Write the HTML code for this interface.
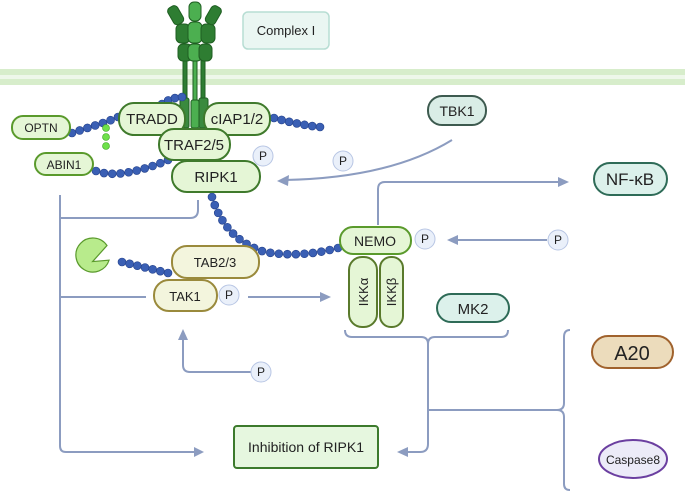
<!DOCTYPE html>
<html><head><meta charset="utf-8"><style>
html,body{margin:0;padding:0;background:#fff;}
svg{display:block;font-family:"Liberation Sans",sans-serif;}
</style></head><body>
<svg id="s" width="685" height="494" viewBox="0 0 685 494" xmlns="http://www.w3.org/2000/svg">
<rect width="685" height="494" fill="#fff"/>
<!-- membrane -->
<rect x="0" y="69" width="685" height="16" fill="#d7edcb"/>
<rect x="0" y="75" width="685" height="4" fill="#eef7ea"/>
<!-- complex I -->
<rect x="243" y="12" width="86" height="37" rx="5" fill="#eaf6f2" stroke="#b7ddd3" stroke-width="1.5"/>
<text x="286" y="35" font-size="13" text-anchor="middle" fill="#222">Complex I</text>
<!-- receptor -->
<g stroke="#1f5e22" stroke-width="1">
<rect x="183" y="50" width="4" height="80" fill="#2e7d32"/>
<rect x="193" y="50" width="4" height="80" fill="#4caf50"/>
<rect x="201" y="50" width="4" height="80" fill="#2e7d32"/>
<rect x="180" y="98" width="9" height="30" rx="2" fill="#3a8a3e"/>
<rect x="191" y="100" width="8" height="28" rx="2" fill="#4caf50"/>
<rect x="199" y="98" width="9" height="30" rx="2" fill="#3a8a3e"/>
<rect x="178" y="44" width="14" height="17" rx="5" fill="#2e7d32"/>
<rect x="188" y="44" width="14" height="17" rx="5" fill="#4caf50"/>
<rect x="199" y="44" width="13" height="17" rx="5" fill="#2e7d32"/>
<rect x="176" y="24" width="14" height="19" rx="5" fill="#2e7d32"/>
<rect x="188" y="22" width="14" height="21" rx="5" fill="#4caf50"/>
<rect x="201" y="24" width="14" height="19" rx="5" fill="#2e7d32"/>
<rect x="189" y="2" width="12" height="19" rx="5" fill="#4caf50"/>
<rect x="170" y="6" width="11" height="19" rx="4" fill="#2e7d32" transform="rotate(-30 175 15)"/>
<rect x="208" y="6" width="11" height="19" rx="4" fill="#2e7d32" transform="rotate(30 214 15)"/>
</g>
<!-- connectors -->
<g fill="none" stroke="#8c9cc0" stroke-width="2">
<path d="M60 195 V446 Q60 452 66 452 H196"/>
<path d="M60 218 H190 Q198 218 198 210 V200"/>
<path d="M60 297 H146"/>
<path d="M248 297 H322"/>
<path d="M252 372 H190 Q183 372 183 365 V338"/>
<path d="M452 140 Q390 178 285 180"/>
<path d="M378 225 V189 Q378 182 385 182 H560"/>
<path d="M547 240 H455"/>
<path d="M345 330 Q345 337 352 337 H421 Q428 337 428 344 V444 Q428 452 420 452 H405"/>
<path d="M428 344 Q428 337 435 337 H501 Q508 337 508 330"/>
<path d="M428 410 H557 Q564 410 564 403 V337 Q564 330 570 330"/>
<path d="M557 410 Q564 410 564 417 V484 Q564 490 570 490"/>
</g>
<g fill="#8c9cc0">
<path d="M204 452 L194 447 L194 457Z"/>
<path d="M331 297 L320 292 L320 302Z"/>
<path d="M183 329 L178 340 L188 340Z"/>
<path d="M277 181 L289 175 L288 186Z"/>
<path d="M569 182 L558 177 L558 187Z"/>
<path d="M447 240 L458 235 L458 245Z"/>
<path d="M397 452 L408 447 L408 457Z"/>
</g>
<!-- chains -->
<g id="chains" fill="#3a5fb4" stroke="#23408a" stroke-width="0.6"></g>
<path id="c1" d="M72 133 Q90 127 100 124 Q112 120 118 117" fill="none"/>
<path id="c2" d="M162 104 Q170 98 182 97" fill="none"/>
<path id="c3" d="M274 118 Q300 125 320 127" fill="none"/>
<path id="c4" d="M96 171 Q110 176 130 172 Q150 168 168 160" fill="none"/>
<path id="c5" d="M212 197 Q225 240 265 252 Q300 258 338 248" fill="none"/>
<path id="c6" d="M122 262 L168 273" fill="none"/>
<g fill="#6ee04a" stroke="#3aa020" stroke-width="0.6">
<circle cx="106" cy="128" r="3.5"/><circle cx="106" cy="137" r="3.5"/><circle cx="106" cy="146" r="3.5"/>
</g>
<!-- pacman -->
<path d="M110 255 A17 17 0 1 1 103 242 L95 262 Z" fill="#b8eb8c" stroke="#5a9a2c" stroke-width="1.2" transform="rotate(20 95 255)"/>
<!-- nodes -->
<g stroke-width="2" font-size="15" text-anchor="middle" fill="#222">
<rect x="12" y="116" width="58" height="23" rx="11" fill="#e5f6d6" stroke="#5a9a2c"/>
<text x="41" y="132" font-size="12" stroke="none" fill="#222">OPTN</text>
<rect x="35" y="153" width="58" height="22" rx="11" fill="#e5f6d6" stroke="#5a9a2c"/>
<text x="64" y="169" font-size="12" stroke="none" fill="#222">ABIN1</text>
<rect x="119" y="103" width="66" height="32" rx="15" fill="#e5f6d6" stroke="#3f7a2c"/>
<text x="152" y="124" stroke="none" fill="#222">TRADD</text>
<rect x="204" y="103" width="66" height="32" rx="15" fill="#e5f6d6" stroke="#3f7a2c"/>
<text x="237" y="124" stroke="none" fill="#222">cIAP1/2</text>
<rect x="159" y="129" width="71" height="31" rx="15" fill="#e5f6d6" stroke="#3f7a2c"/>
<text x="194" y="150" stroke="none" fill="#222">TRAF2/5</text>
<rect x="172" y="161" width="88" height="31" rx="15" fill="#e5f6d6" stroke="#3f7a2c"/>
<text x="216" y="182" stroke="none" fill="#222">RIPK1</text>
<rect x="428" y="96" width="58" height="29" rx="14" fill="#d9ede6" stroke="#3d5a4f"/>
<text x="457" y="116" font-size="14" stroke="none" fill="#222">TBK1</text>
<rect x="594" y="163" width="73" height="32" rx="16" fill="#dcf1eb" stroke="#2e6b57"/>
<text x="630" y="185" font-size="17" stroke="none" fill="#222">NF-κB</text>
<rect x="340" y="227" width="71" height="27" rx="13" fill="#e5f6d6" stroke="#5a9a2c"/>
<text x="375" y="246" font-size="14" stroke="none" fill="#222">NEMO</text>
<rect x="349" y="257" width="28" height="70" rx="13" fill="#e5f6d6" stroke="#5a7a2c"/>
<rect x="380" y="257" width="23" height="70" rx="11" fill="#e5f6d6" stroke="#5a7a2c"/>
<text transform="translate(368 292) rotate(-90)" font-size="13" stroke="none" fill="#222">IKKα</text>
<text transform="translate(396 292) rotate(-90)" font-size="13" stroke="none" fill="#222">IKKβ</text>
<rect x="437" y="294" width="72" height="28" rx="14" fill="#dcf1eb" stroke="#2e6b57"/>
<text x="473" y="314" font-size="15" stroke="none" fill="#222">MK2</text>
<rect x="172" y="246" width="87" height="32" rx="15" fill="#f3f5dd" stroke="#9a8a3c"/>
<text x="215" y="267" font-size="13" stroke="none" fill="#222">TAB2/3</text>
<rect x="154" y="280" width="63" height="31" rx="15" fill="#f3f5dd" stroke="#9a8a3c"/>
<text x="185" y="301" font-size="13" stroke="none" fill="#222">TAK1</text>
<rect x="592" y="336" width="81" height="32" rx="16" fill="#ecdcbc" stroke="#a0622d"/>
<text x="632" y="360" font-size="20" stroke="none" fill="#222">A20</text>
<ellipse cx="633" cy="459" rx="34" ry="19" fill="#ecebf8" stroke="#6b3fa0"/>
<text x="633" y="464" font-size="12" stroke="none" fill="#222">Caspase8</text>
<rect x="234" y="426" width="144" height="42" rx="3" fill="#e6f7df" stroke="#3c7a2c"/>
<text x="306" y="452" font-size="14" stroke="none" fill="#222">Inhibition of RIPK1</text>
</g>
<g fill="#eaf0fa" stroke="#b8c6e4" stroke-width="1" font-size="12" text-anchor="middle">
<circle cx="263" cy="156" r="10"/><circle cx="343" cy="161" r="10"/><circle cx="425" cy="239" r="10"/>
<circle cx="229" cy="295" r="10"/><circle cx="558" cy="240" r="10"/><circle cx="261" cy="372" r="10"/>
</g>
<g font-size="12" text-anchor="middle" fill="#222">
<text x="263" y="160">P</text><text x="343" y="165">P</text><text x="425" y="243">P</text>
<text x="229" y="299">P</text><text x="558" y="244">P</text><text x="261" y="376">P</text>
</g>
<script>
var g=document.getElementById('chains');
['c1','c2','c3','c4','c5','c6'].forEach(function(id){
 var p=document.getElementById(id),L=p.getTotalLength(),n=Math.max(2,Math.round(L/8.5));
 for(var i=0;i<=n;i++){var pt=p.getPointAtLength(L*i/n);
  var c=document.createElementNS('http://www.w3.org/2000/svg','circle');
  c.setAttribute('cx',pt.x);c.setAttribute('cy',pt.y);c.setAttribute('r',4);g.appendChild(c);}
});
</script>
</svg>
</body></html>
